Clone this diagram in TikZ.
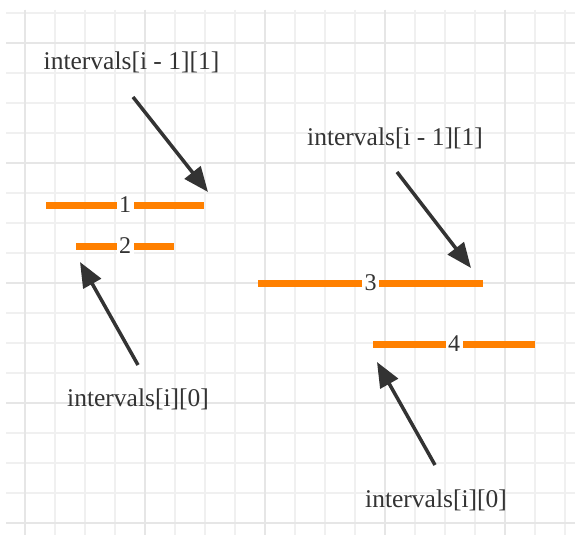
\documentclass[tikz,border=0pt]{standalone}
\usepackage{fontspec}
\setmainfont{Liberation Serif}
\usepackage{xcolor}
\usepackage{tikz}
\usetikzlibrary{arrows.meta}

\definecolor{segorange}{HTML}{FF8000}
\definecolor{inkgray}{HTML}{333333}
\definecolor{gridlight}{HTML}{F0F0F0}
\definecolor{gridmajor}{HTML}{E6E6E6}

\tikzset{
    seg/.style={draw=segorange, line width=7pt},
    num/.style={fill=white, text=inkgray, inner xsep=2.5pt, inner ysep=1pt, font=\fontsize{24}{28}\selectfont},
    pointer/.style={draw=inkgray, line width=3.5pt, -{Triangle[length=25pt,width=20pt]}},
    lab/.style={text=inkgray, anchor=base, inner sep=0pt, font=\fontsize{25.5}{30}\selectfont}
}

\begin{document}
\begin{tikzpicture}[x=1pt, y=-1pt]
            \useasboundingbox[fill=white] (0,0) rectangle (575,535);
            % grid
            \foreach \gx in {25,55,...,565} \draw[gridlight, line width=1.6pt] (\gx,10) -- (\gx,535);
            \foreach \gy in {13,43,...,523} \draw[gridlight, line width=1.6pt] (6,\gy) -- (575,\gy);
            \foreach \gx in {25,145,...,505} \draw[gridmajor, line width=2.4pt] (\gx,10) -- (\gx,535);
            \foreach \gy in {43,163,...,523} \draw[gridmajor, line width=2.4pt] (6,\gy) -- (575,\gy);
            % intervals
            \coordinate (s1) at (46,205);
            \coordinate (e1) at (204,205);
            \coordinate (s2) at (76,246);
            \coordinate (e2) at (174,246);
            \coordinate (s3) at (258,283);
            \coordinate (e3) at (483,283);
            \coordinate (s4) at (373,344);
            \coordinate (e4) at (535,344);
            \draw[seg] (s1) -- node[num] (n1) {1} (e1);
            \draw[seg] (s2) -- node[num] (n2) {2} (e2);
            \draw[seg] (s3) -- node[num] (n3) {3} (e3);
            \draw[seg] (s4) -- node[num] (n4) {4} (e4);
            % labels
            \node[lab] (endA) at (131.5,70) {intervals[i - 1][1]};
            \node[lab] (startA) at (138,406) {intervals[i][0]};
            \node[lab] (endB) at (395,145) {intervals[i - 1][1]};
            \node[lab] (startB) at (436,507) {intervals[i][0]};
            % arrows
            \coordinate (tA) at (133,97);
            \coordinate (hA) at (208,192);
            \coordinate (tB) at (138,365);
            \coordinate (hB) at (80,262);
            \coordinate (tC) at (397,172);
            \coordinate (hC) at (471,268);
            \coordinate (tD) at (435,465);
            \coordinate (hD) at (377,362);
            \draw[pointer] (tA) -- (hA);
            \draw[pointer] (tB) -- (hB);
            \draw[pointer] (tC) -- (hC);
            \draw[pointer] (tD) -- (hD);
        \end{tikzpicture}
\end{document}
